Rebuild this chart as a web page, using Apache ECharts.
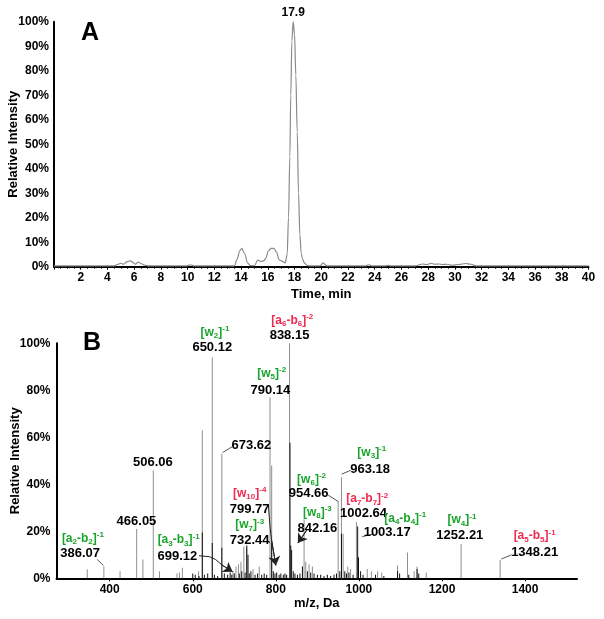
<!DOCTYPE html>
<html><head><meta charset="utf-8">
<script src="https://cdn.jsdelivr.net/npm/echarts@6/dist/echarts.min.js"></script>
<style>html,body{margin:0;padding:0;background:#fff}#c{width:604px;height:619px}</style>
</head><body><div id="c"></div>
<script>
// ---- Panel A: chromatogram ----
const chromTime = [0,4.5,4.8,5.0,5.2,5.45,5.7,5.95,6.1,6.3,6.55,6.8,7.1,9.9,10.2,10.5,
  13.5,13.7,13.9,14.05,14.25,14.5,14.7,15.0,15.25,15.5,15.7,15.85,16.05,16.25,16.45,16.65,16.85,17.05,17.3,
  17.45,17.55,17.65,17.72,17.8,17.9,18.0,18.1,18.2,18.3,18.4,18.5,18.6,18.75,18.9,19.1,19.9,20.15,20.4,
  23.3,23.55,23.8,24.8,25.0,25.2,27.0,27.6,27.9,28.2,28.5,28.8,29.1,29.4,29.8,30.3,30.8,31.2,31.6,40];
const chromIntensity = [0.3,0.3,1.0,1.4,1.0,2.0,2.4,1.6,1.0,1.9,1.2,0.6,0.3,0.3,0.8,0.3,
  0.3,3,6.5,7.5,5.5,1.5,0.4,0.4,2.7,2.2,2.4,3.5,6.5,7.5,7.5,6,2.8,2.3,1.6,
  5,20,45,70,92,100,95,78,55,30,13,5.5,3,1.5,0.7,0.3,0.3,1.6,0.3,
  0.3,0.8,0.3,0.3,0.6,0.3,0.3,1.1,0.8,1.4,1.0,1.1,0.9,1.0,0.6,0.9,1.3,1.0,0.3,0.3];
const apexTime = 17.9;
const apexLabel = '17.9';

// ---- Panel B: MS/MS spectrum ----
const grayPeaks = [[346,3.8],[386,5],[425,3],[465,21],[480,8],[505,46],[520,3],[562,2],[568,2.5],[575,4.5],
  [614,3],[623,63],[647,94],[670,53],[697,3],[704,5],[710,6],[716,7],[723,13.5],[730,13],
  [745,4],[760,5],[786,77],[790,48],[833,100],[868,25],[872,7],[880,6],[888,5],[950,32.6],
  [958,43],[962,19],[973,5],[980,4],[994,24],[1020,4],[1030,3],[1045,3],[1055,2.5],[1093,5.5],
  [1117,11],[1133,3],[1140,5],[1162,2.5],[1246,14.6],[1340,7.8]];
const blackPeaks = [[600,2],[606,1.5],[615,1],[623,19.5],[628,1.5],[636,2],[647,15],[652,1.5],[660,1],[670,13],
  [676,2],[684,1.5],[690,2.5],[694,1.5],[700,2],[712,2],[718,3],[726,2.5],[730,14],[733,10],
  [736,2],[740,3],[750,1.5],[756,2],[766,1.5],[772,2],[778,1.5],[790,15],[794,3],[798,2],
  [802,2.5],[808,1.5],[812,2],[818,1.5],[822,2],[826,1.5],[834,57.7],[836,14],[838,12],[842,3],
  [846,2],[852,1.5],[858,2],[864,5],[876,3],[884,2.5],[892,2],[900,1.5],[908,1.5],[916,1],
  [924,1.5],[932,1],[940,1.5],[946,2],[954,3],[958,19],[966,3],[970,2],[976,2.5],[986,1.5],
  [997,22],[999,9],[1004,3],[1010,1.5],[1040,1.5],[1060,1],[1093,3],[1098,2],[1120,1.5],[1140,4],[1144,2]];
const mzTicks = [400,600,800,1000,1200,1400];

// annotation texts (m/z values) placed at [m/z, %]
const massLabels = [[329,10.6,'386.07'],[464.5,24.4,'466.05'],[504,49.4,'506.06'],[563,9.5,'699.12'],
  [647,98.2,'650.12'],[741,56.5,'673.62'],[833,103.5,'838.15'],[787,80.1,'790.14'],[737,29.1,'799.77'],
  [737,16.3,'732.44'],[900,21.3,'842.16'],[879,36.2,'954.66'],[1027,46.5,'963.18'],[1011,27.7,'1002.64'],
  [1068,19.6,'1003.17'],[1243,18.4,'1252.21'],[1423,11.1,'1348.21']];
// ion assignments: [m/z, %, text, class]  g = green, r = red
const ionLabels = [[335.5,17.0,'[a_2-b_2]^-1','g'],[566,16.3,'[a_3-b_3]^-1','g'],[653.5,104.7,'[w_2]^-1','g'],
  [839.6,109.6,'[a_6-b_6]^-2','r'],[790,87.2,'[w_5]^-2','g'],[737,36.2,'[w_10]^-4','r'],[737,22.7,'[w_7]^-3','g'],
  [900,28.1,'[w_8]^-3','g'],[886,42.1,'[w_6]^-2','g'],[1031,53.5,'[w_3]^-1','g'],[1020,33.8,'[a_7-b_7]^-2','r'],
  [1111.5,25.5,'[a_4-b_4]^-1','g'],[1248,24.8,'[w_4]^-1','g'],[1423,18.0,'[a_5-b_5]^-1','r']];
const leaders = [[[370,8.0],[385,5.5]],[[695,56],[672,53.5]],[[926,35.4],[951,32.6]],[[980.6,46],[958.5,44.3]],
  [[1035,18.9],[1008,17.7]],[[1367.7,10],[1342.8,8.2]],[[779,16.3],[786,15]]];
const arrowLeaders = [[[615,9.6],[640,9.2],[655,8],[670,5.7],[696,2.8]],
  [[782,31.2],[786,22],[790,16],[800,5.5]],[[874.5,20.5],[853,15]]];

const FONT = '"Liberation Sans", Arial, sans-serif';
const GREEN = '#19a52b', RED = '#ee2a4f';

function ionRich(s, cls) {
  let out = '', buf = '', i = 0;
  const flush = () => { if (buf) { out += '{' + cls + 'n|' + buf + '}'; buf = ''; } };
  while (i < s.length) {
    const ch = s[i];
    if (ch === '_') {
      flush();
      let j = i + 1, d = '';
      while (j < s.length && /[0-9]/.test(s[j])) { d += s[j]; j++; }
      out += '{' + cls + 'b|' + d + '}';
      i = j; continue;
    }
    if (ch === '^') { flush(); out += '{' + cls + 'p|' + s.slice(i + 1) + '}'; break; }
    buf += ch; i++;
  }
  flush();
  return out;
}
function richSet(cls, color) {
  const r = {};
  r[cls + 'n'] = {color, fontSize: 12, fontWeight: 'bold', fontFamily: FONT, lineHeight: 15, opacity: 1};
  r[cls + 'b'] = {color, fontSize: 8, fontWeight: 'bold', fontFamily: FONT, lineHeight: 9, verticalAlign: 'bottom', opacity: 1};
  r[cls + 'p'] = {color, fontSize: 8, fontWeight: 'bold', fontFamily: FONT, lineHeight: 9, verticalAlign: 'top', opacity: 1};
  return r;
}
const rich = Object.assign({}, richSet('g', GREEN), richSet('r', RED));

const axisLabelStyle = {color: '#000', fontWeight: 'bold', fontSize: 12, fontFamily: FONT};
const nameStyle = {color: '#000', fontWeight: 'bold', fontSize: 13, fontFamily: FONT};
const axisLineStyle = {show: true, lineStyle: {color: '#000', width: 2}};

const chromData = chromTime.map((t, i) => {
  if (t === apexTime) {
    return {value: [t, chromIntensity[i]], label: {show: true, position: 'top', distance: 3,
      formatter: apexLabel, color: '#000', fontWeight: 'bold', fontSize: 12, fontFamily: FONT}};
  }
  return [t, chromIntensity[i]];
});

// arrow heads: last segment of each arrowed leader
const arrowHeads = arrowLeaders.map(c => ({coords: [c[c.length - 2], c[c.length - 1]]}));

const chart = echarts.init(document.getElementById('c'), null, {renderer: 'canvas'});
chart.setOption({
  animation: false,
  backgroundColor: '#fff',
  grid: [
    {left: 54, right: 15.5, top: 21.7, height: 245, containLabel: false, outerBoundsMode: 'none'},
    {left: 56.5, right: 27, top: 343.3, height: 235, containLabel: false, outerBoundsMode: 'none'}
  ],
  xAxis: [
    {gridIndex: 0, type: 'value', min: 0, max: 40, interval: 2,
      axisLine: axisLineStyle, splitLine: {show: false},
      axisTick: {show: true, length: 3, lineStyle: {color: '#000'}},
      minorTick: {show: true, splitNumber: 4, length: 2, lineStyle: {color: '#000'}},
      axisLabel: Object.assign({margin: 5, formatter: v => v === 0 ? '' : String(v)}, axisLabelStyle),
      name: 'Time, min', nameLocation: 'middle', nameGap: 21, nameMoveOverlap: false, nameTextStyle: nameStyle},
    {gridIndex: 1, type: 'value', min: 272, max: 1525,
      axisLine: axisLineStyle, splitLine: {show: false},
      axisTick: {show: true, length: 3, customValues: mzTicks, lineStyle: {color: '#000'}},
      axisLabel: Object.assign({margin: 5, customValues: mzTicks, formatter: v => String(v)}, axisLabelStyle),
      name: 'm/z, Da', nameLocation: 'middle', nameGap: 19, nameMoveOverlap: false, nameTextStyle: nameStyle}
  ],
  yAxis: [
    {gridIndex: 0, type: 'value', min: 0, max: 100, interval: 10,
      axisLine: axisLineStyle, axisTick: {show: false}, splitLine: {show: false},
      axisLabel: Object.assign({margin: 5, formatter: '{value}%'}, axisLabelStyle),
      name: 'Relative Intensity', nameLocation: 'middle', nameGap: 34, nameMoveOverlap: false, nameTextStyle: nameStyle},
    {gridIndex: 1, type: 'value', min: 0, max: 100, interval: 20,
      axisLine: axisLineStyle, axisTick: {show: false}, splitLine: {show: false},
      axisLabel: Object.assign({margin: 6, formatter: '{value}%'}, axisLabelStyle),
      name: 'Relative Intensity', nameLocation: 'middle', nameGap: 35, nameMoveOverlap: false, nameTextStyle: nameStyle}
  ],
  series: [
    {type: 'line', xAxisIndex: 0, yAxisIndex: 0, data: chromData, showSymbol: true, symbol: 'circle', symbolSize: 0,
      smooth: 0.35, smoothMonotone: 'x', lineStyle: {color: '#8a8a8a', width: 1.2}, itemStyle: {color: '#8a8a8a'}, z: 3},
    {type: 'bar', xAxisIndex: 1, yAxisIndex: 1, data: grayPeaks, barWidth: 1, barGap: '-100%',
      itemStyle: {color: '#8f8f8f'}, z: 2},
    {type: 'bar', xAxisIndex: 1, yAxisIndex: 1, data: blackPeaks, barWidth: 1, barGap: '-100%',
      itemStyle: {color: '#111'}, z: 3},
    {type: 'lines', coordinateSystem: 'cartesian2d', xAxisIndex: 1, yAxisIndex: 1, polyline: true,
      data: leaders.map(c => ({coords: c})),
      lineStyle: {color: '#555', width: 1, opacity: 1}, z: 4},
    {type: 'lines', coordinateSystem: 'cartesian2d', xAxisIndex: 1, yAxisIndex: 1, polyline: true,
      data: arrowLeaders.map(c => ({coords: c})),
      lineStyle: {color: '#222', width: 1, opacity: 1}, z: 4},
    {type: 'lines', coordinateSystem: 'cartesian2d', xAxisIndex: 1, yAxisIndex: 1, polyline: false,
      data: arrowHeads, symbol: ['none', 'arrow'], symbolSize: 9,
      lineStyle: {color: '#222', width: 1, opacity: 1, curveness: 0}, itemStyle: {color: '#111'}, z: 4},
    {type: 'scatter', xAxisIndex: 1, yAxisIndex: 1, clip: false, symbolSize: 0, z: 5,
      itemStyle: {opacity: 1},
      data: massLabels,
      label: {show: true, position: 'inside', formatter: p => p.value[2], opacity: 1,
        textBorderWidth: 0, color: '#000', fontWeight: 'bold', fontSize: 13, fontFamily: FONT}},
    {type: 'scatter', xAxisIndex: 1, yAxisIndex: 1, clip: false, symbolSize: 0, z: 5,
      itemStyle: {opacity: 1},
      data: ionLabels,
      label: {show: true, position: 'inside', opacity: 1, textBorderWidth: 0,
        formatter: p => ionRich(p.value[2], p.value[3]), rich: rich}}
  ],
  graphic: [
    {type: 'text', left: 81, top: 21, style: {text: 'A', fill: '#000', font: 'bold 25px ' + FONT}},
    {type: 'text', left: 83, top: 331, style: {text: 'B', fill: '#000', font: 'bold 25px ' + FONT}}
  ]
});
</script>
</body></html>
